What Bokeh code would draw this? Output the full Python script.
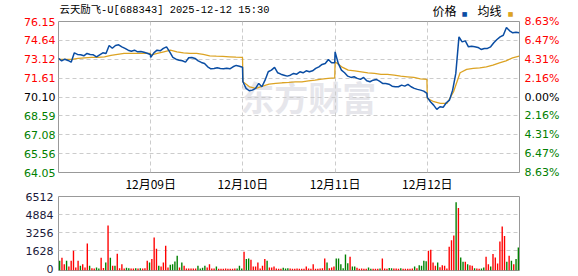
from bokeh.plotting import figure
from bokeh.models import Range1d, FixedTicker, Grid, ColumnDataSource
from bokeh.layouts import column, row
from bokeh.core.properties import value
from bokeh.embed import file_html
from bokeh.resources import INLINE

# ---------------- data ----------------
title_text = "云天励飞-U[688343] 2025-12-12 15:30"
legend_names = ["价格", "均线"]
dates = ["12月09日", "12月10日", "12月11日", "12月12日"]
prev_close = 70.10
price_ticks = [64.05, 65.56, 67.08, 68.59, 70.10, 71.61, 73.12, 74.64, 76.15]
pct_labels = ["8.63%", "6.47%", "4.31%", "2.16%", "0.00%", "2.16%", "4.31%", "6.47%", "8.63%"]
vol_ticks = [0, 1628, 3256, 4884, 6512]

price_d1 = [73.19, 73.00, 73.13, 73.03, 72.89, 73.64, 73.51, 73.48, 73.40, 73.59,
            73.51, 73.48, 73.32, 73.48, 73.64, 73.59, 74.23, 74.01, 74.23, 74.28,
            74.12, 73.99, 73.85, 73.77, 73.85, 73.72, 73.75, 73.69, 73.61, 73.51]
price_d2 = [73.27, 73.64, 73.85, 73.80, 73.99, 74.12, 73.72, 73.27, 73.13, 73.05,
            73.00, 72.89, 73.24, 73.27, 73.19, 73.00, 72.87, 72.79, 72.52, 72.36,
            72.39, 72.44, 72.39, 72.36, 72.41, 72.36, 72.52, 72.63, 72.57, 72.49]
price_d3 = [71.32, 70.79, 70.60, 70.65, 70.79, 71.19, 70.92, 71.45, 72.12, 72.25,
            72.47, 72.04, 71.93, 71.85, 71.77, 71.85, 71.99, 71.93, 72.12, 72.04,
            72.20, 72.12, 72.20, 72.39, 72.52, 72.71, 72.79, 73.11, 72.84, 72.84]
price_d4 = [73.72, 72.79, 72.25, 72.04, 71.77, 71.67, 71.72, 71.59, 71.51, 71.67,
            71.40, 71.32, 71.45, 71.51, 71.37, 71.19, 71.19, 71.13, 70.97, 70.92,
            70.92, 71.05, 70.97, 71.11, 70.92, 70.79, 70.71, 70.65, 70.57, 70.39]
price_d5 = [70.07, 69.72, 69.45, 69.11, 69.32, 69.27, 69.64, 69.85, 70.65, 71.99,
            74.92, 74.52, 74.60, 74.12, 74.17, 74.12, 74.07, 73.91, 73.99, 73.99,
            74.12, 74.44, 74.71, 74.92, 75.05, 75.67, 75.40, 75.24, 75.29, 75.24]

avg_d1 = [73.11, 73.11, 73.11, 73.19, 73.24, 73.27, 73.27, 73.32, 73.43, 73.51,
          73.59, 73.59, 73.59, 73.59, 73.59]
avg_d2 = [73.45, 73.59, 73.72, 73.85, 73.72, 73.64, 73.59, 73.59, 73.51, 73.40,
          73.37, 73.35, 73.32, 73.29, 73.27]
avg_d3 = [71.32, 70.92, 70.79, 70.97, 71.13, 71.19, 71.24, 71.27, 71.32, 71.32,
          71.40, 71.45, 71.53, 71.59, 71.64]
avg_d4 = [72.92, 72.52, 72.25, 72.20, 72.12, 72.04, 71.99, 71.91, 71.91, 71.85,
          71.77, 71.72, 71.67, 71.56, 71.51]
avg_d5 = [69.99, 69.72, 69.59, 69.59, 70.52, 72.04, 72.31, 72.39, 72.44, 72.52,
          72.65, 72.84, 73.00, 73.24, 73.37]

vol_d1 = [750, 1020, 450, 750, 240, 750, 1650, 150, 750, 300, 450, 150, 2290, 300, 90,
          60, 150, 60, 1020, 100, 600, 3910, 1020, 300, 300, 1380, 80, 450, 60, 120,
          90, 60, 50, 90, 50, 90, 50, 80, 750, 600]
vol_d2 = [900, 2830, 1830, 300, 240, 600, 2100, 150, 400, 450, 690, 1200, 150, 600, 300,
          50, 50, 50, 60, 50, 300, 50, 120, 300, 150, 450, 50, 50, 240, 40,
          40, 40, 60, 40, 40, 40, 70, 60, 300, 60]
vol_d3 = [1560, 900, 960, 840, 240, 240, 600, 60, 300, 900, 750, 150, 150, 240, 60,
          40, 40, 120, 60, 90, 50, 40, 40, 70, 40, 40, 40, 240, 60, 40,
          450, 40, 40, 50, 80, 960, 600, 80, 150, 240]
vol_d4 = [960, 960, 450, 90, 1320, 540, 1110, 240, 240, 120, 40, 50, 40, 40, 150,
          40, 40, 40, 40, 50, 960, 50, 40, 100, 90, 70, 70, 40, 80, 40,
          40, 40, 40, 50, 240, 90, 360, 300, 750, 720]
vol_d5 = [1650, 1740, 600, 300, 600, 180, 360, 300, 60, 2010, 2590, 3010, 5990, 5480, 1050,
          660, 660, 450, 360, 300, 90, 60, 40, 50, 150, 1110, 450, 240, 1350, 1050,
          510, 2470, 3820, 2980, 660, 1200, 750, 450, 900, 1950]
# r = up minute (red), g = down minute (green)
dir_d1 = "grrgrrrrrg" "rrrgrrggrr" "grgrgrrrrg" "grrgrgrrrg"
dir_d2 = "rrrgrrrrgg" "ggrgrrrrrr" "ggggrrrrgr" "rrrrrrrggg"
dir_d3 = "rggrrrrrrr" "grrrrrrggg" "rrrrrrrrrr" "rrrrrrgrrr"
dir_d4 = "ggggggrggr" "rrrrggrrrg" "rrrggrrrgr" "rrrrgrgggg"
dir_d5 = "rrrrgrrrrr" "rrgrggrgrr" "grrggrrgrr" "rrrrgrgrgg"

# ---------------- styling / layout ----------------
UP, DOWN, FLAT = "#ff0000", "#008000", "#000000"
PRICE_C, AVG_C = "#0a4da3", "#dca323"
GRID_C = "#cccccc"
FRAME_C = "#999999"
NUM_FONT = "DejaVu Sans"
CJK_FONT = "Noto Sans CJK SC"
TITLE_FONT = "Liberation Mono, Noto Sans CJK SC"

LEFT_W, CENTER_W, RIGHT_W = 57, 463, 58
HEAD_H, MAIN_H, DATE_H, VOL_H = 20, 153, 19, 84
MAIN_TB = (1, 1)     # main frame borders (top, bottom)
VOL_TB = (4, 6)      # volume frame borders (top, bottom)
vol_floor = -120

price_days = [price_d1, price_d2, price_d3, price_d4, price_d5]
avg_days = [avg_d1, avg_d2, avg_d3, avg_d4, avg_d5]
vol_days = [vol_d1, vol_d2, vol_d3, vol_d4, vol_d5]
dir_days = [dir_d1, dir_d2, dir_d3, dir_d4, dir_d5]
n_days = len(price_days)


def day_positions(k, n):
    return [k + i / (n - 1) * 0.996 for i in range(n)]


px, py = [], []
for k, d in enumerate(price_days):
    px += day_positions(k, len(d))
    py += d
ax_, ay = [], []
for k, d in enumerate(avg_days):
    ax_ += day_positions(k, len(d))
    ay += d
vx, vy, vc = [], [], []
for k, (vols, dirs) in enumerate(zip(vol_days, dir_days)):
    n = len(vols)
    for i, (val, ch) in enumerate(zip(vols, dirs)):
        vx.append(k + (i + 0.5) / n)
        vy.append(val)
        vc.append(UP if ch == "r" else DOWN)


def tick_color(t):
    if abs(t - prev_close) < 1e-9:
        return FLAT
    return UP if t > prev_close else DOWN


def bare(width, height, x_range, y_range, borders=(0, 0, 0, 0)):
    f = figure(width=width, height=height, x_range=x_range, y_range=y_range,
               output_backend="svg", toolbar_location=None,
               x_axis_location=None, y_axis_location=None,
               min_border_left=borders[0], min_border_right=borders[1],
               min_border_top=borders[2], min_border_bottom=borders[3])
    f.outline_line_color = None
    f.background_fill_color = "white"
    f.border_fill_color = "white"
    for g in list(f.xgrid) + list(f.ygrid):
        g.visible = False
    return f


xr = Range1d(0, n_days)
p_lo, p_hi = price_ticks[0], price_ticks[-1]
main_frame_h = MAIN_H - sum(MAIN_TB)
s_p = (p_hi - p_lo) / main_frame_h
vol_frame_h = VOL_H - sum(VOL_TB)
s_v = (vol_ticks[-1] - vol_floor) / vol_frame_h

# ---------------- head: title + legend ----------------
head = bare(CENTER_W, HEAD_H, xr, Range1d(0, 1), (1, 1, 0, 0))
head.text(x=0, y=0.52, text=[title_text], x_offset=1, text_font=value(TITLE_FONT),
          text_font_size="10.4px", text_color="#000000", text_align="left",
          text_baseline="middle")
head.text(x=n_days, y=0.52, text=[legend_names[0]], x_offset=-87, text_font=value(CJK_FONT),
          text_font_size="12px", text_color="#000000", text_align="left", text_baseline="middle")
head.text(x=n_days, y=0.35, text=["■"], x_offset=-55, text_font=value(NUM_FONT),
          text_font_size="6px", text_color=PRICE_C, text_align="center", text_baseline="middle")
head.text(x=n_days, y=0.52, text=[legend_names[1]], x_offset=-42, text_font=value(CJK_FONT),
          text_font_size="12px", text_color="#000000", text_align="left", text_baseline="middle")
head.text(x=n_days, y=0.35, text=["■"], x_offset=-9, text_font=value(NUM_FONT),
          text_font_size="6px", text_color=AVG_C, text_align="center", text_baseline="middle")

# ---------------- price panel ----------------
main = bare(CENTER_W, MAIN_H, xr, Range1d(p_lo, p_hi), (1, 1, MAIN_TB[0], MAIN_TB[1]))
main.outline_line_color = FRAME_C
main.add_layout(Grid(dimension=0, ticker=FixedTicker(ticks=list(range(1, n_days))),
                     grid_line_color=GRID_C, grid_line_dash="4 3"))
main.add_layout(Grid(dimension=1, ticker=FixedTicker(ticks=price_ticks[1:-1]),
                     grid_line_color=GRID_C, grid_line_dash="4 3"))
main.text(x=2.71, y=70.17, text=["东方财富"], text_font=value(CJK_FONT),
          text_font_style="bold", text_font_size="34px", text_color="#e6e6eb",
          text_align="center", text_baseline="middle", level="underlay")
main.line(ax_, ay, line_color=AVG_C, line_width=1.3)
main.line(px, py, line_color=PRICE_C, line_width=1.5)

# ---------------- date labels ----------------
dates_fig = bare(CENTER_W, DATE_H, xr, Range1d(0, 1), (1, 1, 0, 0))
dates_fig.text(x=list(range(1, n_days)), y=0.5, text=dates, text_font=value(CJK_FONT),
               text_font_size="12px", text_color="#000000", text_align="center",
               text_baseline="middle")

# ---------------- volume panel ----------------
vol = bare(CENTER_W, VOL_H, xr, Range1d(vol_floor, vol_ticks[-1]), (1, 1, VOL_TB[0], VOL_TB[1]))
vol.outline_line_color = FRAME_C
vol.add_layout(Grid(dimension=1, ticker=FixedTicker(ticks=vol_ticks[1:-1]),
                    grid_line_color=GRID_C, grid_line_dash="4 3"))
vsrc = ColumnDataSource(dict(x=vx, top=vy, color=vc))
vol.vbar(x="x", top="top", bottom=vol_floor, width=0.6 / 40, source=vsrc,
         fill_color="color", line_color=None)

# ---------------- side label columns ----------------
upper_h = HEAD_H + MAIN_H + DATE_H
side_p_range = dict(start=p_lo - (DATE_H + MAIN_TB[1]) * s_p,
                    end=p_hi + (HEAD_H + MAIN_TB[0]) * s_p)
colors = [tick_color(t) for t in price_ticks]

lp = bare(LEFT_W, upper_h, Range1d(0, 1), Range1d(**side_p_range))
lp.text(x=1, y=price_ticks, text=[f"{t:.2f}" for t in price_ticks], x_offset=-2,
        text_color=colors, text_font=value(NUM_FONT), text_font_size="11px",
        text_align="right", text_baseline="middle")

lv = bare(LEFT_W, VOL_H, Range1d(0, 1),
          Range1d(vol_floor - VOL_TB[1] * s_v, vol_ticks[-1] + VOL_TB[0] * s_v))
lv.text(x=1, y=vol_ticks, text=[str(t) for t in vol_ticks], x_offset=-4,
        text_color="#1a1a3a", text_font=value(NUM_FONT), text_font_size="11px",
        text_align="right", text_baseline="middle")

rp = bare(RIGHT_W, upper_h, Range1d(0, 1), Range1d(**side_p_range))
rp.text(x=0, y=price_ticks, text=pct_labels, x_offset=4,
        text_color=colors, text_font=value(NUM_FONT), text_font_size="11px",
        text_align="left", text_baseline="middle")

layout = row(column(lp, lv), column(head, main, dates_fig, vol), column(rp))
open("out.html", "w").write(file_html(layout, INLINE))
